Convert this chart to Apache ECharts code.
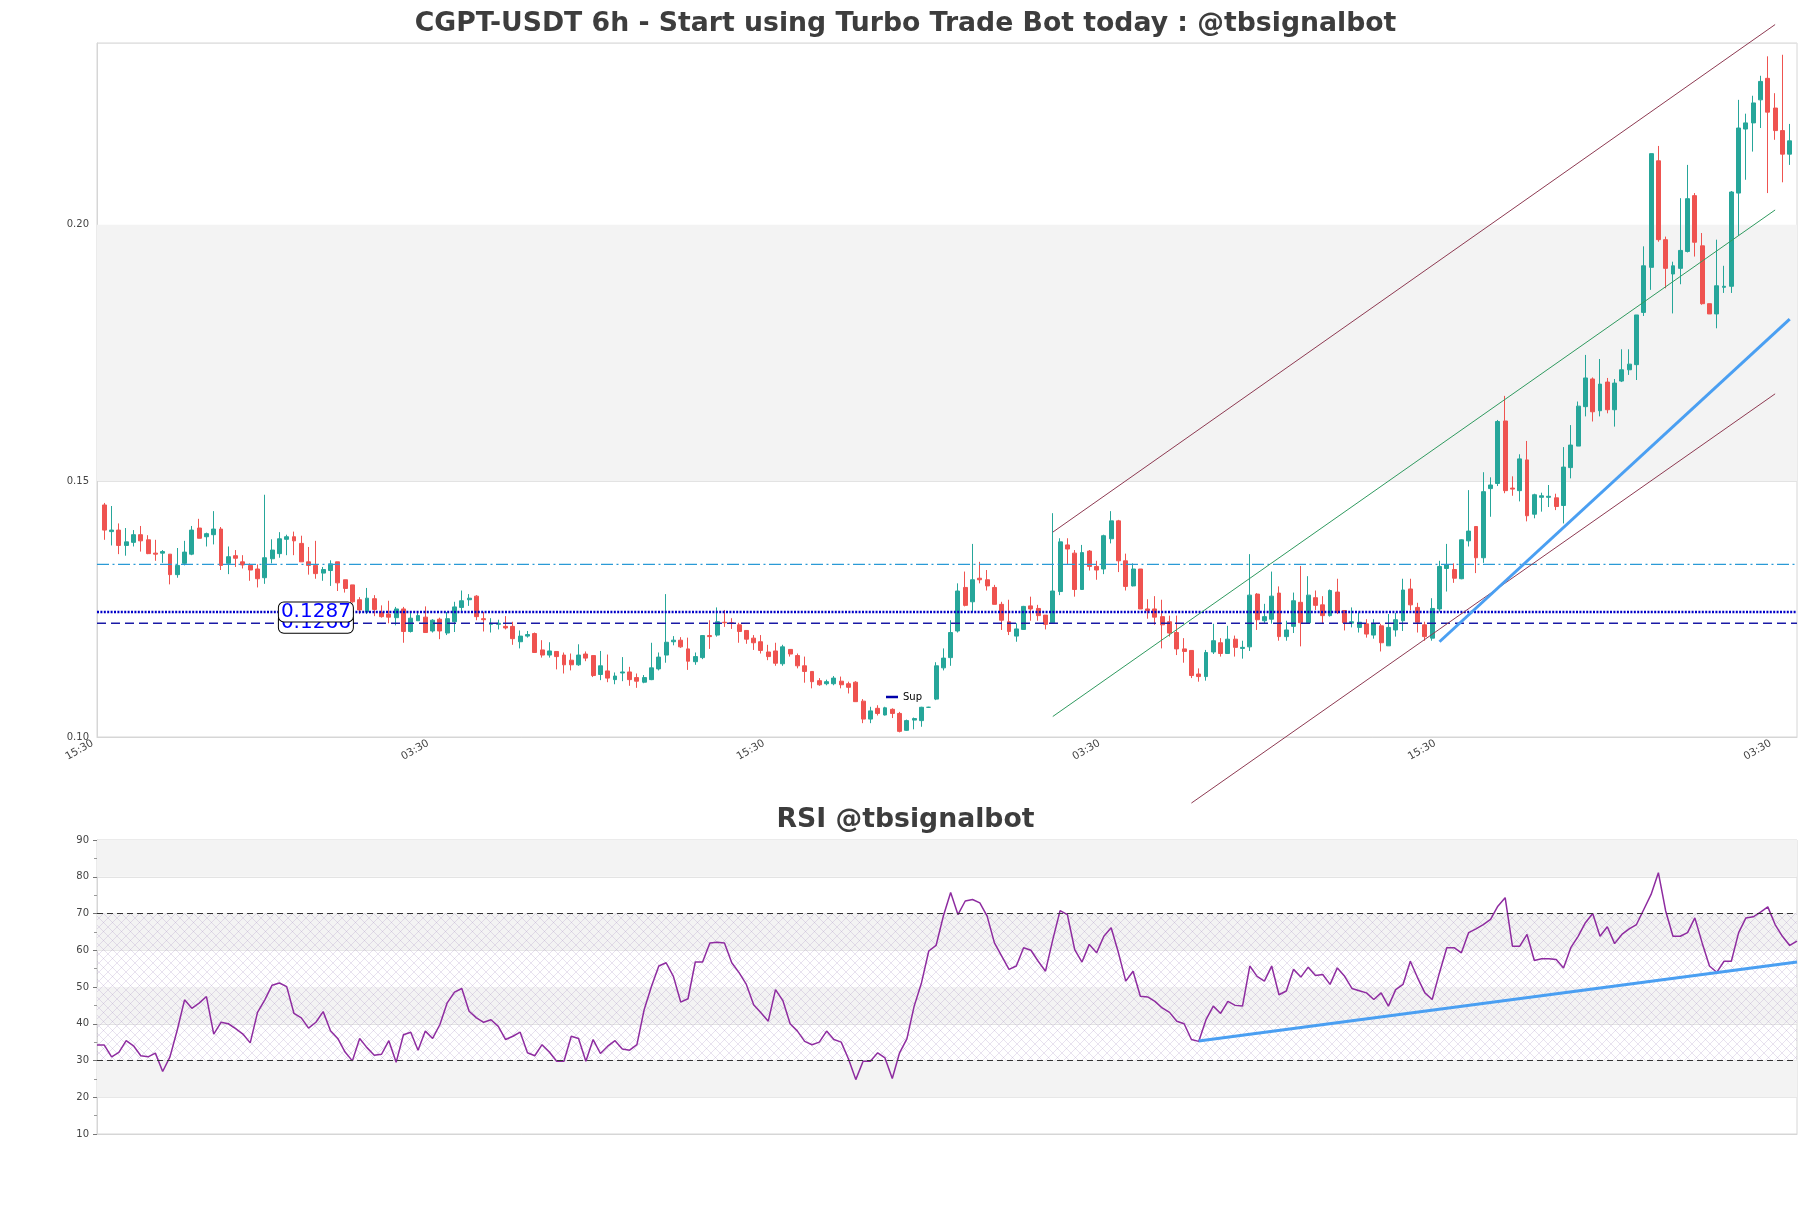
<!DOCTYPE html>
<html>
<head>
<meta charset="utf-8">
<script src="https://cdn.jsdelivr.net/npm/echarts@6.0.0/dist/echarts.min.js"></script>
<style>html,body{margin:0;padding:0;background:#fff;}#c{width:1811px;height:1208px;}</style>
</head>
<body>
<div id="c"></div>
<script>
// ---------------- data ----------------
const titleText = 'CGPT-USDT 6h - Start using Turbo Trade Bot today : @tbsignalbot';
const rsiTitle = 'RSI @tbsignalbot';
const tickLabels = ['15:30', '03:30', '15:30', '03:30', '15:30', '03:30'];
const tickEvery = 46;
const slotCount = 234;           // x slots (candles occupy slots 1..232)

const openP = [
.1453,.1401,.1404,.1374,.1380,.1395,.1385,.1359,.1359,.1357,
.1317,.1339,.1357,.1408,.1391,.1395,.1406,.1339,.1354,.1342,
.1335,.1328,.1311,.1348,.1358,.1386,.1391,.1378,.1342,.1335,
.1320,.1325,.1342,.1307,.1297,.1268,.1244,.1270,.1243,.1240,
.1233,.1250,.1206,.1227,.1234,.1207,.1230,.1203,.1225,.1253,
.1268,.1275,.1231,.1220,.1220,.1216,.1216,.1186,.1197,.1202,
.1170,.1160,.1167,.1160,.1150,.1141,.1162,.1159,.1122,.1129,
.1112,.1125,.1127,.1116,.1107,.1112,.1133,.1160,.1186,.1189,
.1172,.1147,.1155,.1198,.1199,.1224,.1223,.1219,.1208,.1193,
.1186,.1166,.1168,.1143,.1171,.1159,.1139,.1128,.1110,.1104,
.1104,.1109,.1104,.1107,.1070,.1035,.1056,.1043,.1054,.1046,
.1013,.1033,.1032,.1058,.1074,.1135,.1155,.1207,.1292,.1264,
.1310,.1307,.1292,.1259,.1225,.1197,.1210,.1256,.1251,.1238,
.1223,.1284,.1375,.1359,.1288,.1363,.1333,.1328,.1387,.1422,
.1344,.1295,.1328,.1250,.1250,.1235,.1225,.1204,.1172,.1169,
.1123,.1118,.1166,.1184,.1163,.1191,.1173,.1176,.1279,.1227,
.1230,.1281,.1196,.1216,.1263,.1223,.1272,.1258,.1237,.1283,
.1247,.1222,.1214,.1221,.1199,.1217,.1178,.1209,.1227,.1289,
.1253,.1219,.1193,.1250,.1329,.1327,.1309,.1383,.1411,.1350,
.1485,.1495,.1617,.1486,.1481,.1541,.1435,.1468,.1468,.1467,
.1452,.1526,.1568,.1645,.1699,.1637,.1693,.1639,.1695,.1717,
.1727,.1829,.1917,.2125,.1971,.1904,.1915,.1948,.2057,.1959,
.1846,.1826,.1878,.1880,.2062,.2187,.2199,.2244,.2286,.2228,
.2184,.2138];

const closeP = [
.1404,.1404,.1374,.1381,.1395,.1383,.1358,.1357,.1362,.1317,
.1335,.1361,.1404,.1388,.1397,.1406,.1335,.1352,.1349,.1336,
.1326,.1309,.1350,.1365,.1387,.1391,.1383,.1342,.1335,.1319,
.1327,.1338,.1301,.1290,.1264,.1248,.1271,.1249,.1235,.1234,
.1250,.1206,.1232,.1237,.1204,.1228,.1207,.1231,.1254,.1266,
.1271,.1235,.1229,.1222,.1222,.1213,.1192,.1197,.1200,.1165,
.1160,.1168,.1157,.1141,.1141,.1160,.1154,.1120,.1139,.1115,
.1119,.1127,.1112,.1109,.1116,.1135,.1156,.1185,.1189,.1176,
.1148,.1157,.1198,.1196,.1225,.1223,.1222,.1206,.1191,.1184,
.1169,.1157,.1144,.1176,.1162,.1139,.1128,.1108,.1102,.1108,
.1115,.1102,.1097,.1069,.1035,.1051,.1046,.1057,.1046,.1011,
.1032,.1036,.1058,.1058,.1139,.1154,.1204,.1285,.1257,.1307,
.1307,.1295,.1259,.1228,.1206,.1211,.1255,.1250,.1237,.1220,
.1285,.1381,.1367,.1288,.1360,.1333,.1326,.1393,.1422,.1344,
.1294,.1328,.1250,.1247,.1234,.1219,.1203,.1172,.1167,.1120,
.1118,.1165,.1188,.1163,.1191,.1175,.1175,.1277,.1229,.1235,
.1275,.1196,.1209,.1266,.1223,.1277,.1257,.1237,.1286,.1243,
.1223,.1225,.1224,.1201,.1221,.1184,.1214,.1229,.1287,.1258,
.1224,.1196,.1251,.1333,.1336,.1310,.1385,.1402,.1350,.1479,
.1492,.1616,.1481,.1484,.1543,.1432,.1473,.1471,.1470,.1450,
.1527,.1570,.1646,.1701,.1635,.1689,.1639,.1691,.1717,.1728,
.1824,.1920,.2139,.1971,.1915,.1920,.1950,.2051,.1966,.1846,
.1826,.1881,.1880,.2064,.2189,.2199,.2238,.2280,.2220,.2184,
.2138,.2164];

const lowP = [
.1385,.1374,.1357,.1354,.1372,.1362,.1357,.1344,.1340,.1298,
.1311,.1335,.1355,.1388,.1372,.1376,.1326,.1318,.1332,.1329,
.1305,.1292,.1299,.1339,.1350,.1355,.1355,.1342,.1317,.1309,
.1305,.1295,.1285,.1282,.1262,.1240,.1240,.1236,.1233,.1222,
.1218,.1184,.1204,.1227,.1204,.1204,.1191,.1199,.1205,.1245,
.1256,.1228,.1206,.1204,.1210,.1210,.1180,.1173,.1194,.1165,
.1155,.1155,.1132,.1124,.1130,.1139,.1148,.1117,.1111,.1107,
.1103,.1109,.1100,.1096,.1105,.1111,.1130,.1145,.1179,.1174,
.1131,.1141,.1152,.1172,.1196,.1215,.1211,.1184,.1182,.1170,
.1163,.1150,.1139,.1139,.1157,.1134,.1106,.1095,.1100,.1101,
.1101,.1095,.1085,.1069,.1027,.1027,.1042,.1042,.1037,.1009,
.1012,.1015,.1020,.1057,.1072,.1130,.1139,.1204,.1255,.1244,
.1300,.1286,.1259,.1209,.1199,.1186,.1209,.1227,.1227,.1210,
.1222,.1277,.1336,.1274,.1287,.1325,.1307,.1318,.1378,.1322,
.1286,.1294,.1250,.1231,.1219,.1173,.1196,.1160,.1145,.1115,
.1108,.1110,.1162,.1157,.1162,.1157,.1153,.1168,.1209,.1222,
.1221,.1188,.1188,.1203,.1177,.1222,.1248,.1222,.1235,.1240,
.1208,.1214,.1204,.1194,.1192,.1167,.1178,.1196,.1207,.1247,
.1204,.1188,.1188,.1245,.1284,.1301,.1308,.1372,.1320,.1340,
.1430,.1490,.1476,.1471,.1460,.1421,.1427,.1440,.1449,.1443,
.1417,.1505,.1568,.1626,.1616,.1626,.1632,.1606,.1693,.1707,
.1697,.1822,.1873,.1967,.1876,.1827,.1884,.1946,.1938,.1844,
.1826,.1798,.1867,.1867,.1979,.2088,.2143,.2189,.2062,.2166,
.2083,.2117];

const highP = [
.1457,.1451,.1417,.1408,.1404,.1412,.1394,.1385,.1365,.1357,
.1369,.1383,.1412,.1426,.1399,.1441,.1410,.1372,.1365,.1355,
.1339,.1337,.1473,.1386,.1400,.1395,.1401,.1393,.1371,.1383,
.1332,.1345,.1342,.1307,.1297,.1273,.1291,.1277,.1257,.1266,
.1254,.1254,.1246,.1245,.1255,.1230,.1233,.1244,.1264,.1286,
.1279,.1277,.1244,.1232,.1229,.1236,.1225,.1208,.1207,.1204,
.1189,.1185,.1167,.1165,.1163,.1181,.1167,.1159,.1168,.1161,
.1126,.1156,.1137,.1124,.1121,.1184,.1165,.1279,.1197,.1195,
.1194,.1165,.1199,.1228,.1253,.1248,.1232,.1223,.1208,.1199,
.1199,.1180,.1184,.1180,.1171,.1163,.1157,.1128,.1115,.1112,
.1119,.1118,.1108,.1109,.1074,.1059,.1062,.1059,.1056,.1049,
.1034,.1038,.1059,.1059,.1146,.1173,.1228,.1300,.1323,.1377,
.1342,.1326,.1297,.1264,.1268,.1222,.1256,.1274,.1258,.1238,
.1437,.1388,.1388,.1365,.1375,.1365,.1344,.1395,.1441,.1424,
.1358,.1339,.1328,.1269,.1275,.1268,.1237,.1237,.1193,.1169,
.1134,.1170,.1221,.1193,.1217,.1198,.1188,.1357,.1281,.1260,
.1323,.1294,.1227,.1282,.1334,.1314,.1286,.1275,.1288,.1309,
.1247,.1253,.1243,.1230,.1230,.1221,.1240,.1242,.1309,.1309,
.1262,.1225,.1271,.1344,.1377,.1339,.1386,.1482,.1411,.1517,
.1507,.1619,.1666,.1509,.1552,.1578,.1475,.1477,.1492,.1475,
.1566,.1609,.1655,.1746,.1702,.1738,.1701,.1699,.1757,.1757,
.1824,.1958,.2139,.2154,.1977,.1928,.2052,.2117,.2062,.1984,
.1846,.1971,.1920,.2066,.2244,.2217,.2252,.2291,.2329,.2257,
.2332,.2197];

const rsiValues = [
34.2,34.2,31.0,32.2,35.4,34.0,31.3,31.0,32.0,27.0,
31.0,38.3,46.5,44.2,45.6,47.4,37.2,40.4,40.0,38.7,
37.2,34.8,43.1,46.5,50.5,51.1,50.1,42.8,41.6,38.8,
40.4,43.3,38.1,36.0,32.3,29.9,36.0,33.5,31.4,31.7,
35.4,29.5,37.0,37.7,32.8,38.0,36.0,39.8,45.7,48.6,
49.6,43.4,41.6,40.4,41.1,39.3,35.7,36.6,37.7,32.1,
31.3,34.3,32.3,29.8,29.8,36.6,36.0,29.8,35.7,31.9,
33.9,35.4,33.1,32.8,34.3,43.9,50.2,55.7,56.6,52.9,
45.9,46.8,56.8,56.8,62.0,62.2,62.0,56.6,53.9,50.7,
45.2,43.0,40.7,49.3,46.3,40.0,38.0,35.2,34.3,35.0,
38.0,35.7,35.0,30.4,24.8,29.8,29.8,32.1,30.7,25.1,
32.1,35.9,44.8,51.1,59.8,61.3,69.3,75.7,69.7,73.4,
73.8,72.9,69.3,62.0,58.4,54.8,55.7,60.7,60.0,57.0,
54.3,62.9,70.8,69.7,60.2,56.8,61.6,59.3,63.8,66.1,
59.3,51.6,54.3,47.5,47.3,46.1,44.3,43.1,40.7,40.0,
35.7,35.2,41.1,44.8,42.8,46.1,45.0,44.8,55.7,52.9,
51.6,55.7,47.9,48.9,54.8,52.7,55.4,53.1,53.4,50.7,
55.2,52.9,49.6,49.0,48.4,46.6,48.4,44.8,49.3,50.7,
57.0,52.5,48.4,46.6,53.9,60.7,60.7,59.3,64.8,65.8,
67.0,68.4,72.0,74.3,61.1,61.1,64.3,57.2,57.7,57.7,
57.5,55.2,60.7,63.8,67.5,70.0,63.8,66.4,61.8,64.3,
65.8,67.0,71.1,75.2,81.1,70.7,63.8,63.8,64.8,68.8,
62.0,55.7,54.0,57.0,57.0,64.8,68.8,69.1,70.4,71.8,
67.0,63.8,61.3,62.5];

// horizontal levels
const resistLevel = 0.1337;      // dash-dot
const pivotLevel = 0.1244;       // dotted
const supLevel = 0.1222;         // dashed ("Sup")
const boxTexts = ['0.1266', '0.1287'];
const boxSlot = 30;

// trend / channel lines: [slot, value]
const channelUpper = [[131, 0.1400], [230, 0.2391]];
const channelMid = [[131, 0.1040], [230, 0.2029]];
const channelLower = [[150, 0.0871], [230, 0.1670]];
const priceTrend = [[184, 0.1186], [232, 0.1816]];
const rsiTrend = [[151, 35.3], [233, 56.8]];

const mainBands = [[0.15, 0.20]];
const rsiGrayBands = [[80, 90], [60, 70], [40, 50], [20, 30]];
const rsiHatch = [30, 70];
const rsiLevels = [30, 70];

// ---------------- build ----------------
const FONT = 'DejaVu Sans';
const slots = Array.from({length: slotCount}, (_, i) => String(i));
const candleData = openP.map((o, i) => [i + 1, o, closeP[i], lowP[i], highP[i]]);

const hatch = document.createElement('canvas');
hatch.width = 9; hatch.height = 9;
(function () {
  const g = hatch.getContext('2d');
  g.strokeStyle = 'rgba(165,140,190,0.36)';
  g.lineWidth = 0.7;
  g.beginPath();
  g.moveTo(0, 0); g.lineTo(9, 9);
  g.moveTo(0, 9); g.lineTo(9, 0);
  g.stroke();
})();

function hLine(v) { return [[0, v], [slotCount - 1, v]]; }

const chart = echarts.init(document.getElementById('c'), null, {renderer: 'canvas'});
const titleStyle = {fontFamily: FONT, fontWeight: 'bold', fontSize: 26.7, color: '#3d3d3d'};

const option = {
  animation: false,
  backgroundColor: '#ffffff',
  textStyle: {fontFamily: FONT},
  title: [
    {text: titleText, left: 'center', top: 6, textStyle: titleStyle},
    {text: rsiTitle, left: 'center', top: 802, textStyle: titleStyle}
  ],
  legend: {
    data: [{name: 'Sup', icon: 'rect'}],
    left: 881, top: 687, itemWidth: 12, itemHeight: 2.5, itemGap: 5,
    selectedMode: false,
    textStyle: {fontFamily: FONT, fontSize: 10, color: '#000'}
  },
  grid: [
    {left: 97, top: 43, width: 1700, height: 694, show: true, borderColor: '#d6d6d6', borderWidth: 1, backgroundColor: 'transparent'},
    {left: 97, top: 840, width: 1700, height: 294, show: true, borderColor: '#d6d6d6', borderWidth: 1, backgroundColor: 'transparent'}
  ],
  xAxis: [
    {
      type: 'category', gridIndex: 0, data: slots, boundaryGap: false,
      axisLine: {show: true, lineStyle: {color: '#d6d6d6'}},
      axisTick: {show: false},
      splitLine: {show: false},
      axisLabel: {
        interval: (i) => i % tickEvery === 0,
        formatter: (v, i) => (i % tickEvery === 0 ? tickLabels[i / tickEvery] : ''),
        rotate: 30, fontSize: 10.5, color: '#444', margin: 3, padding: [0, 5, 0, 0], fontFamily: FONT
      }
    },
    {
      type: 'category', gridIndex: 1, data: slots, boundaryGap: false,
      axisLine: {show: true, lineStyle: {color: '#d6d6d6'}},
      axisTick: {show: false}, axisLabel: {show: false}, splitLine: {show: false}
    }
  ],
  yAxis: [
    {
      type: 'value', gridIndex: 0, min: 0.10, max: 0.2355, interval: 0.05,
      axisLine: {show: true, lineStyle: {color: '#d6d6d6'}},
      axisTick: {show: false},
      splitLine: {show: true, lineStyle: {color: '#e3e3e3'}},
      axisLabel: {
        fontSize: 10, color: '#444', margin: 8, fontFamily: FONT,
        formatter: (v) => (Math.abs(v / 0.05 - Math.round(v / 0.05)) < 1e-6 ? v.toFixed(2) : '')
      }
    },
    {
      type: 'value', gridIndex: 1, min: 10, max: 90, interval: 10,
      axisLine: {show: true, lineStyle: {color: '#d6d6d6'}},
      axisTick: {show: true, length: 4, lineStyle: {color: '#777'}},
      minorTick: {show: true, splitNumber: 2, length: 3, lineStyle: {color: '#999'}},
      splitLine: {show: true, lineStyle: {color: '#e3e3e3'}},
      axisLabel: {fontSize: 10, color: '#444', margin: 8, fontFamily: FONT}
    }
  ],
  series: [
    {
      name: 'price', type: 'candlestick', xAxisIndex: 0, yAxisIndex: 0,
      data: candleData, encode: {x: 0, y: [1, 2, 3, 4]},
      barWidth: 4.4,
      itemStyle: {color: '#26a69a', color0: '#ef5350', borderColor: '#26a69a', borderColor0: '#ef5350', borderWidth: 1},
      markArea: {
        silent: true,
        itemStyle: {color: '#f3f3f3'},
        data: mainBands.map(b => [{yAxis: b[0]}, {yAxis: b[1]}])
      },
      z: 2
    },
    {
      name: 'Res', type: 'line', xAxisIndex: 0, yAxisIndex: 0, data: hLine(resistLevel),
      symbol: 'none', silent: true, z: 3,
      lineStyle: {color: '#2a9ad6', width: 1.3, type: [12, 3.5, 2, 3.5]}
    },
    {
      name: 'Pivot', type: 'line', xAxisIndex: 0, yAxisIndex: 0, data: hLine(pivotLevel),
      symbol: 'none', silent: true, z: 3,
      lineStyle: {color: '#0000c8', width: 2.6, type: [2, 1.4]}
    },
    {
      name: 'Sup', type: 'line', xAxisIndex: 0, yAxisIndex: 0, data: hLine(supLevel),
      symbol: 'none', silent: true, z: 3, color: '#0000aa',
      lineStyle: {color: '#1a1aa6', width: 1.4, type: [9, 5]}
    },
    {
      name: 'chU', type: 'line', xAxisIndex: 0, yAxisIndex: 0, data: channelUpper,
      symbol: 'none', silent: true, clip: false, z: 3,
      lineStyle: {color: '#8e3a52', width: 1}
    },
    {
      name: 'chM', type: 'line', xAxisIndex: 0, yAxisIndex: 0, data: channelMid,
      symbol: 'none', silent: true, clip: false, z: 3,
      lineStyle: {color: '#2f9a5f', width: 1}
    },
    {
      name: 'chL', type: 'line', xAxisIndex: 0, yAxisIndex: 0, data: channelLower,
      symbol: 'none', silent: true, clip: false, z: 3,
      lineStyle: {color: '#8e3a52', width: 1}
    },
    {
      name: 'trend', type: 'line', xAxisIndex: 0, yAxisIndex: 0, data: priceTrend,
      symbol: 'none', silent: true, clip: false, z: 4,
      lineStyle: {color: '#4a9ff2', width: 3}
    },
    {
      name: 'boxes', type: 'scatter', xAxisIndex: 0, yAxisIndex: 0,
      data: [[boxSlot, supLevel, boxTexts[0]], [boxSlot, pivotLevel, boxTexts[1]]],
      symbolSize: 1, itemStyle: {color: 'rgba(0,0,0,0)'}, silent: true, z: 10,
      label: {
        show: true, position: 'inside', offset: [0, -2], formatter: (p) => p.data[2], opacity: 1,
        fontFamily: FONT, fontSize: 20, lineHeight: 17, color: '#0000ff',
        backgroundColor: '#ffffff', borderColor: '#000', borderWidth: 1, borderRadius: 5,
        padding: [1, 2, 1, 2]
      },
      labelLayout: {hideOverlap: false}
    },
    {
      name: 'RSI', type: 'line', xAxisIndex: 1, yAxisIndex: 1, data: rsiValues,
      symbol: 'none', silent: true, z: 3,
      lineStyle: {color: '#8e2ca0', width: 1.5},
      markArea: {
        silent: true,
        data: rsiGrayBands.map(b => [{yAxis: b[0], itemStyle: {color: '#f3f3f3'}}, {yAxis: b[1]}])
          .concat([[{yAxis: rsiHatch[0], itemStyle: {color: {image: hatch, repeat: 'repeat'}}}, {yAxis: rsiHatch[1]}]])
      },
      markLine: {
        silent: true, symbol: 'none', label: {show: false},
        lineStyle: {color: '#333', type: [6, 4], width: 1.1},
        data: rsiLevels.map(v => ({yAxis: v}))
      }
    },
    {
      name: 'rsiTrend', type: 'line', xAxisIndex: 1, yAxisIndex: 1, data: rsiTrend,
      symbol: 'none', silent: true, z: 4,
      lineStyle: {color: '#4a9ff2', width: 3}
    }
  ]
};
chart.setOption(option);
</script>
</body>
</html>
